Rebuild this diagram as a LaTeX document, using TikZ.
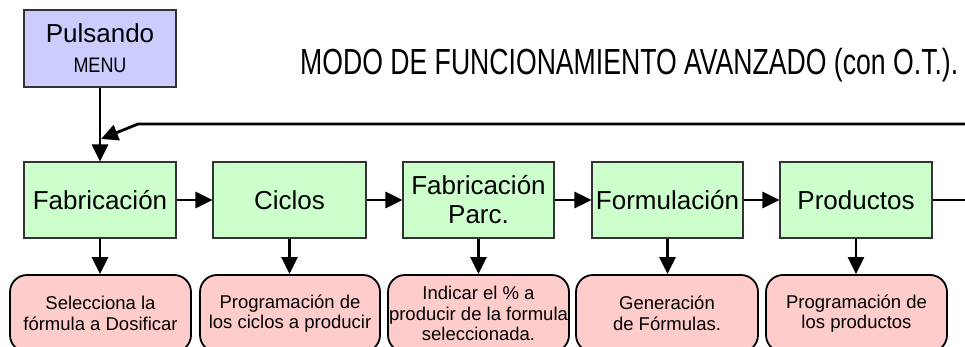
\documentclass[tikz,border=0pt]{standalone}
\usepackage{fontspec}
\usepackage{graphicx}
\setmainfont{Liberation Sans}
\usetikzlibrary{arrows.meta}
\definecolor{lav}{HTML}{CCCCFF}
\definecolor{grn}{HTML}{CCFFCC}
\definecolor{pnk}{HTML}{FFCCCC}
\definecolor{edge}{HTML}{333333}
\tikzset{
  menubox/.style={draw=edge, line width=1.1pt, fill=lav, minimum width=152pt, minimum height=77pt, inner sep=0pt, align=center, font=\fontsize{26}{30}\selectfont},
  stagebox/.style={draw=edge, line width=1.1pt, fill=grn, minimum width=152pt, minimum height=76pt, inner sep=0pt, align=center, font=\fontsize{26}{29}\selectfont},
  notebox/.style={draw=black, line width=1.8pt, fill=pnk, minimum width=181pt, minimum height=77pt, rounded corners=17pt, inner sep=0pt, align=center, font=\fontsize{18.5}{20.5}\selectfont},
  conn/.style={line width=2.8pt, -{Triangle[length=17pt,width=16pt]}},
  plainconn/.style={line width=2.8pt},
}
\begin{document}
\begin{tikzpicture}[x=1pt,y=-1pt]
\useasboundingbox (0,0) rectangle (965,347);
\clip (0,0) rectangle (965,347);
% top box
\node[menubox] (menu) at (100,48.5) {Pulsando\\{\fontsize{21}{30}\selectfont\resizebox{53pt}{\height}{MENU}}};
\node[anchor=base west, inner sep=0pt] (title) at (300,75) {\fontsize{36.3}{40}\selectfont\resizebox{658pt}{\height}{MODO DE FUNCIONAMIENTO AVANZADO (con O.T.).}};
% stages
\node[stagebox] (fab) at (100,200) {Fabricación};
\node[stagebox, minimum width=153pt] (cic) at (289.5,200) {Ciclos};
\node[stagebox, minimum width=151pt] (parc) at (478.5,200) {Fabricación\\Parc.};
\node[stagebox, minimum width=151pt] (form) at (667.5,200) {Formulación};
\node[stagebox] (prod) at (856,200) {Productos};
% notes
\node[notebox] (nfab) at (100.5,313.5) {Selecciona la\\fórmula a Dosificar};
\node[notebox, minimum width=180pt] (ncic) at (290,313.5) {Programación de\\los ciclos a producir};
\node[notebox] (nparc) at (478.5,313.5) {Indicar el \% a\\producir de la formula\\seleccionada.};
\node[notebox, minimum width=182pt] (nform) at (667,313.5) {Generación\\de Fórmulas.};
\node[notebox] (nprod) at (856.5,313.5) {Programación de\\los productos};
% coordinates
\coordinate (rend) at (966,200);
\coordinate (fbstart) at (966,124);
\coordinate (fbbend) at (138,124);
\coordinate (fbtip) at (101,139);
% connectors
\draw[conn] (menu.south) -- (fab.north);
\draw[conn] (fab.east) -- (cic.west);
\draw[conn] (cic.east) -- (parc.west);
\draw[conn] (parc.east) -- (form.west);
\draw[conn] (form.east) -- (prod.west);
\draw[plainconn] (prod.east) -- (rend);
\draw[conn] (fbstart) -- (fbbend) -- (fbtip);
\draw[conn] (fab.south) -- (nfab.north -| fab.south);
\draw[conn] (cic.south) -- (ncic.north -| cic.south);
\draw[conn] (parc.south) -- (nparc.north -| parc.south);
\draw[conn] (form.south) -- (nform.north -| form.south);
\draw[conn] (prod.south) -- (nprod.north -| prod.south);
\end{tikzpicture}
\end{document}
